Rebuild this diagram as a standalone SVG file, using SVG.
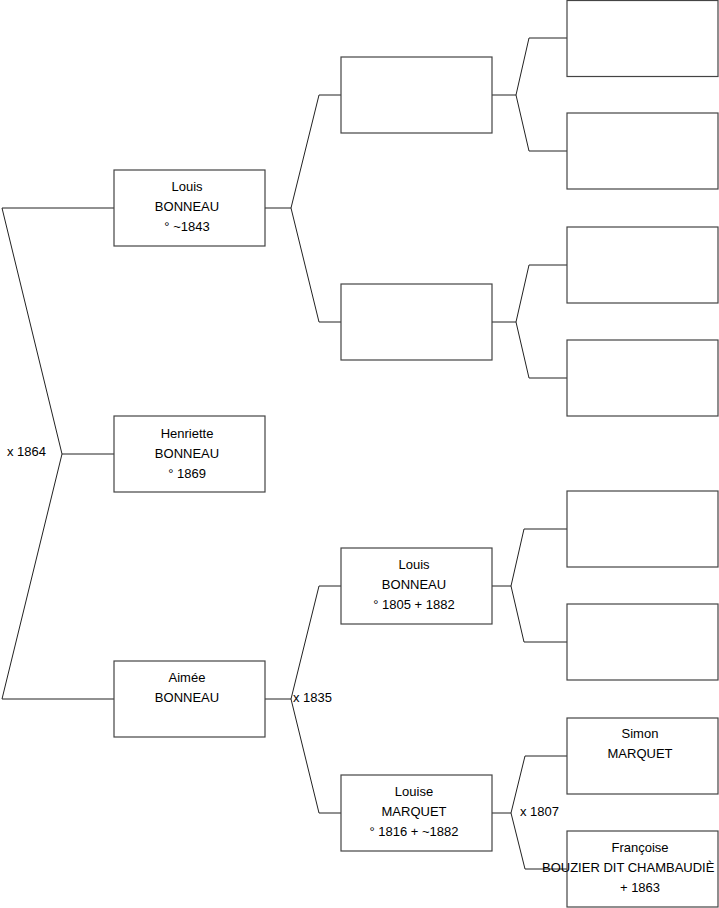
<svg xmlns="http://www.w3.org/2000/svg" width="719" height="908" viewBox="0 0 719 908">
<style>
.box{fill:#fff;stroke:#444;stroke-width:1.2}
.ln{fill:none;stroke:#222;stroke-width:1}
text{font-family:"Liberation Sans",Arial,sans-serif;font-size:13px;fill:#000}
.c{text-anchor:middle}
</style>
<rect width="719" height="908" fill="#fff"/>
<g id="connectors">
<path class="ln" d="M114,454 H62 L2,208 H114 M62,454 L2,699 H114"/>
<text x="7" y="456">x 1864</text>
<path class="ln" d="M265,208 H291 L319,95 H341 M291,208 L319,322 H341"/>
<path class="ln" d="M492,95 H516 L529,38 H567 M516,95 L529,151 H567"/>
<path class="ln" d="M492,322 H516 L529,265 H567 M516,322 L529,378 H567"/>
<path class="ln" d="M265,699 H291 L319,586 H341 M291,699 L319,813 H341"/>
<text x="293" y="702">x 1835</text>
<path class="ln" d="M492,586 H511 L524,529 H567 M511,586 L524,642 H567"/>
<path class="ln" d="M492,813 H511 L525,756 H567 M511,813 L525,869 H567"/>
<text x="520" y="816">x 1807</text>
</g>
<g id="n-louis"><rect class="box" x="114" y="170" width="151" height="76"/><text class="c" x="187" y="191">Louis</text><text class="c" x="187" y="211">BONNEAU</text><text class="c" x="187" y="231">° ~1843</text></g>
<g id="n-henriette"><rect class="box" x="114" y="416" width="151" height="76"/><text class="c" x="187" y="438">Henriette</text><text class="c" x="187" y="458">BONNEAU</text><text class="c" x="187" y="478">° 1869</text></g>
<g id="n-aimee"><rect class="box" x="114" y="661" width="151" height="76"/><text class="c" x="187" y="682">Aimée</text><text class="c" x="187" y="702">BONNEAU</text></g>
<g id="n-g2a"><rect class="box" x="341" y="57" width="151" height="76"/></g>
<g id="n-g2b"><rect class="box" x="341" y="284" width="151" height="76"/></g>
<g id="n-louis1805"><rect class="box" x="341" y="548" width="151" height="76"/><text class="c" x="414" y="569">Louis</text><text class="c" x="414" y="589">BONNEAU</text><text class="c" x="414" y="609">° 1805 + 1882</text></g>
<g id="n-louise"><rect class="box" x="341" y="775" width="151" height="76"/><text class="c" x="414" y="796">Louise</text><text class="c" x="414" y="816">MARQUET</text><text class="c" x="414" y="836">° 1816 + ~1882</text></g>
<g id="n-g3a"><rect class="box" x="567" y="0.5" width="151" height="76"/></g>
<g id="n-g3b"><rect class="box" x="567" y="113" width="151" height="76"/></g>
<g id="n-g3c"><rect class="box" x="567" y="227" width="151" height="76"/></g>
<g id="n-g3d"><rect class="box" x="567" y="340" width="151" height="76"/></g>
<g id="n-g3e"><rect class="box" x="567" y="491" width="151" height="76"/></g>
<g id="n-g3f"><rect class="box" x="567" y="604" width="151" height="76"/></g>
<g id="n-simon"><rect class="box" x="567" y="718" width="151" height="76"/><text class="c" x="640" y="738">Simon</text><text class="c" x="640" y="758">MARQUET</text></g>
<g id="n-francoise"><rect class="box" x="567" y="831" width="151" height="76"/><text class="c" x="640" y="852">Françoise</text><text x="542" y="872">BOUZIER DIT CHAMBAUDIÈ</text><text class="c" x="640" y="892">+ 1863</text></g>
</svg>
